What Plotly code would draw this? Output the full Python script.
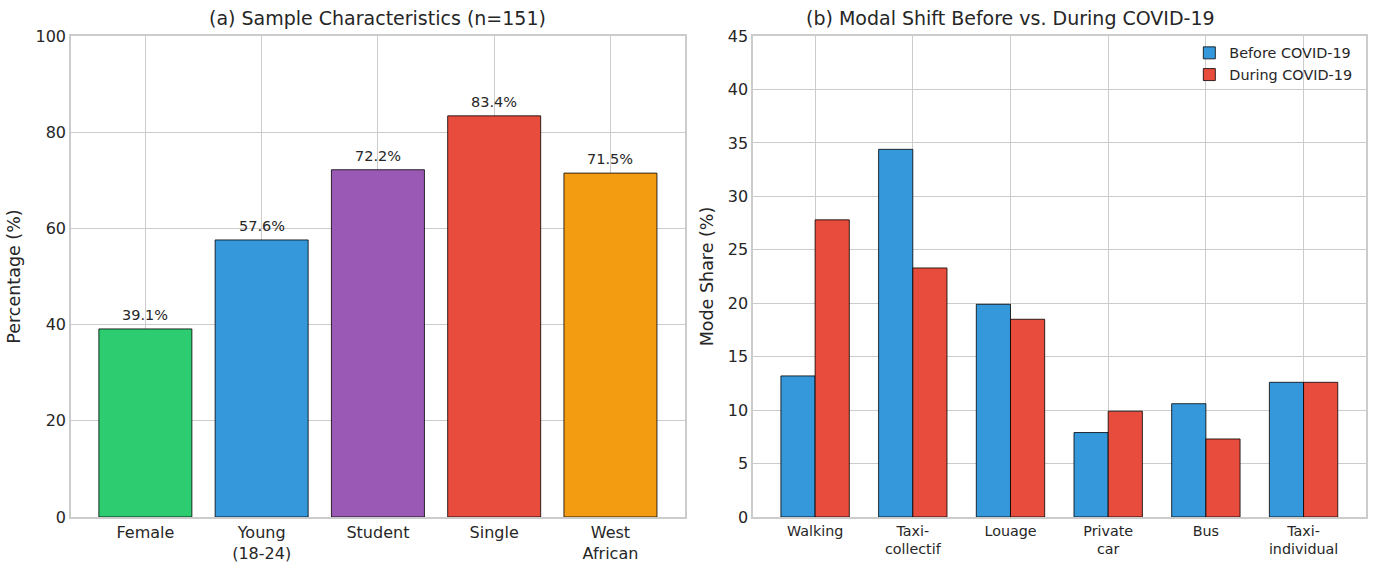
import plotly.graph_objects as go

# Panel (a)
char_labels = ["Female", "Young<br>(18-24)", "Student", "Single", "West<br>African"]
char_values = [39.1, 57.6, 72.2, 83.4, 71.5]
char_colors = ["#2ecc71", "#3498db", "#9b59b6", "#e74c3c", "#f39c12"]

# Panel (b)
modes = ["Walking", "Taxi-<br>collectif", "Louage", "Private<br>car", "Bus", "Taxi-<br>individual"]
before_covid = [13.2, 34.4, 19.9, 7.9, 10.6, 12.6]
during_covid = [27.8, 23.3, 18.5, 9.9, 7.3, 12.6]

FONT = "DejaVu Sans"
TXT = "#262626"
GRID = "#cccccc"

fig = go.Figure()

fig.add_trace(go.Bar(
    x=list(range(len(char_labels))), y=char_values,
    marker=dict(color=char_colors, line=dict(color="#000000", width=0.8)),
    width=0.8, showlegend=False,
    xaxis="x", yaxis="y",
))

fig.add_trace(go.Bar(
    x=list(range(len(modes))), y=before_covid, name="Before COVID-19",
    marker=dict(color="#3498db", line=dict(color="#000000", width=0.8)),
    xaxis="x2", yaxis="y2", width=0.35, offset=-0.35,
))
fig.add_trace(go.Bar(
    x=list(range(len(modes))), y=during_covid, name="During COVID-19",
    marker=dict(color="#e74c3c", line=dict(color="#000000", width=0.8)),
    xaxis="x2", yaxis="y2", width=0.35, offset=0,
))

axis_common = dict(
    showline=True, linecolor=GRID, linewidth=1.5, mirror=True,
    showgrid=True, gridcolor=GRID, gridwidth=1, zeroline=False,
    ticks="", tickfont=dict(family=FONT, size=16, color=TXT),
    automargin=False,
)

annotations = [
    dict(text="(a) Sample Characteristics (n=151)", x=378/1378, y=1-18/569,
         xref="paper", yref="paper", xanchor="center", yanchor="middle", showarrow=False,
         font=dict(family=FONT, size=19, color=TXT)),
    dict(text="(b) Modal Shift Before vs. During COVID-19", x=1010/1378, y=1-18/569,
         xref="paper", yref="paper", xanchor="center", yanchor="middle", showarrow=False,
         font=dict(family=FONT, size=19, color=TXT)),
]
for i, v in enumerate(char_values):
    annotations.append(dict(
        text=f"{v}%", x=i, y=v, xref="x", yref="y", yanchor="bottom",
        yshift=4, showarrow=False, font=dict(family=FONT, size=14.5, color=TXT)))

fig.update_layout(
    width=1378, height=569,
    margin=dict(l=0, r=0, t=0, b=0, autoexpand=False),
    paper_bgcolor="white", plot_bgcolor="white",
    font=dict(family=FONT, color=TXT),
    barmode="overlay",
    xaxis=dict(domain=[0.0515, 0.497], range=[-0.64, 4.64],
               tickmode="array", tickvals=list(range(len(char_labels))),
               ticktext=char_labels, anchor="y", **axis_common),
    yaxis=dict(domain=[0.0914, 0.9367], range=[0, 100], tickvals=[0, 20, 40, 60, 80, 100],
               title=dict(text="Percentage (%)", font=dict(family=FONT, size=17.5, color=TXT), standoff=10),
               anchor="x", **axis_common),
    xaxis2=dict(domain=[0.5465, 0.991], range=[-0.635, 5.635],
                tickmode="array", tickvals=list(range(len(modes))),
                ticktext=modes, anchor="y2",
                **{**axis_common, "tickfont": dict(family=FONT, size=14.3, color=TXT)}),
    yaxis2=dict(domain=[0.0914, 0.9367], range=[0, 45], tickvals=list(range(0, 46, 5)),
                title=dict(text="Mode Share (%)", font=dict(family=FONT, size=17.5, color=TXT), standoff=10),
                anchor="x2", **axis_common),
    legend=dict(x=0.985, y=0.935, xanchor="right", yanchor="top",
                font=dict(family=FONT, size=14.4, color=TXT),
                bgcolor="rgba(255,255,255,0)", borderwidth=0),
    annotations=annotations,
)

fig.write_html("out.html", post_script="document.body.style.margin='0';",
               config={"displayModeBar": False})
